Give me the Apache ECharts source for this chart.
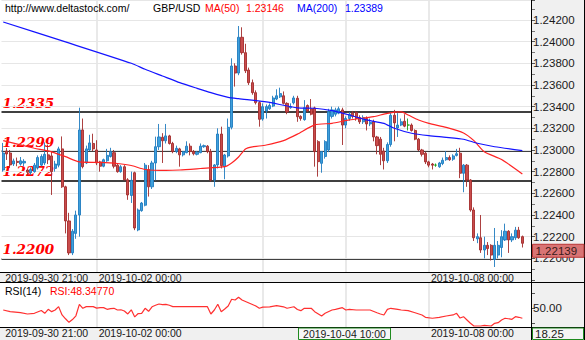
<!DOCTYPE html>
<html>
<head>
<meta charset="utf-8">
<script src="https://cdn.jsdelivr.net/npm/echarts@6/dist/echarts.min.js"></script>
<style>
  html, body { margin: 0; padding: 0; background: #ffffff; }
  #chart { width: 585px; height: 340px; }
</style>
</head>
<body>
<div id="chart"></div>
<script>
// ---- instrument / header ----
const siteUrl = 'http://www.deltastock.com/';
const symbol = 'GBP/USD';
const rsiPeriod = 14;

// ---- hourly bars (weekend gap skipped), first bar and slot count ----
const firstBarUtc = [2019, 8, 30, 21];
const slotCount = 153;

// tick labels shown under both panels, and days with a vertical grid line
const tickLabels = ['2019-09-30 21:00', '2019-10-02 00:00', '2019-10-08 00:00'];
const gridDays = ['2019-10-02 00:00', '2019-10-04 00:00', '2019-10-07 00:00', '2019-10-08 00:00'];

// crosshair position (bar time) and the RSI reading under the pointer
const cursorTime = '2019-10-04 10:00';
const cursorRsiReading = '18.25';

// horizontal support / resistance levels
const levels = [1.2335, 1.2299, 1.2272, 1.2200];

// OHLC bars: [open, close, low, high]
const candles = [
  [1.22815,1.22972,1.22800,1.23065],[1.22990,1.22963,1.22908,1.23018],[1.22972,1.22862,1.22834,1.23000],
  [1.22871,1.22899,1.22852,1.22920],[1.22895,1.22885,1.22850,1.22930],[1.22870,1.22900,1.22855,1.22935],
  [1.22880,1.22895,1.22850,1.22915],[1.22815,1.22795,1.22770,1.22830],[1.22790,1.22820,1.22770,1.22840],
  [1.22800,1.22860,1.22790,1.22880],[1.22835,1.22930,1.22820,1.22950],[1.22860,1.22940,1.22850,1.22960],
  [1.22880,1.22960,1.22860,1.23070],[1.22955,1.22910,1.22870,1.23050],[1.22945,1.22800,1.22585,1.22990],
  [1.22830,1.22870,1.22800,1.22900],[1.22860,1.23010,1.22840,1.23030],[1.23010,1.22660,1.22650,1.23125],
  [1.22660,1.22345,1.22230,1.22670],[1.22345,1.22050,1.22030,1.22420],[1.22050,1.22250,1.22030,1.22270],
  [1.22230,1.22400,1.22180,1.22440],[1.22400,1.23185,1.22200,1.23390],[1.23185,1.22846,1.22830,1.23290],
  [1.22880,1.23010,1.22870,1.23040],[1.23000,1.23065,1.22990,1.23140],[1.23060,1.23010,1.22990,1.23150],
  [1.23000,1.22880,1.22860,1.23090],[1.22890,1.22850,1.22800,1.22900],[1.22850,1.22910,1.22840,1.22920],
  [1.22900,1.22950,1.22890,1.23010],[1.22940,1.22985,1.22930,1.23020],[1.22975,1.22850,1.22830,1.23000],
  [1.22860,1.22800,1.22790,1.22870],[1.22800,1.22845,1.22790,1.22860],[1.22845,1.22725,1.22720,1.22860],
  [1.22725,1.22585,1.22540,1.22740],[1.22580,1.22720,1.22511,1.22800],[1.22790,1.22280,1.22260,1.22800],
  [1.22262,1.22446,1.22250,1.22460],[1.22440,1.22510,1.22430,1.22520],[1.22490,1.22860,1.22480,1.22880],
  [1.22820,1.22660,1.22570,1.22860],[1.22660,1.22880,1.22640,1.22900],[1.22880,1.23030,1.22720,1.23123],
  [1.23030,1.23120,1.23000,1.23240],[1.23117,1.23085,1.22880,1.23155],[1.23085,1.23130,1.23060,1.23240],
  [1.23130,1.23060,1.23050,1.23140],[1.23060,1.22985,1.22970,1.23075],[1.22985,1.23015,1.22970,1.23040],
  [1.23010,1.22955,1.22846,1.23020],[1.22955,1.22985,1.22940,1.22990],[1.22975,1.23035,1.22970,1.23080],
  [1.23035,1.22985,1.22950,1.23060],[1.22985,1.22965,1.22950,1.23000],[1.22960,1.22980,1.22950,1.22990],
  [1.22975,1.23035,1.22970,1.23060],[1.23030,1.23040,1.23020,1.23050],[1.23035,1.22985,1.22970,1.23045],
  [1.22985,1.22723,1.22710,1.23010],[1.22723,1.22862,1.22660,1.22870],[1.22862,1.23147,1.22830,1.23200],
  [1.23147,1.22855,1.22830,1.23215],[1.22846,1.22954,1.22730,1.22963],[1.22945,1.23209,1.22930,1.23290],
  [1.23209,1.23775,1.23190,1.23846],[1.23775,1.23710,1.23585,1.23800],[1.23710,1.24040,1.23690,1.24144],
  [1.24040,1.23898,1.23880,1.24132],[1.23898,1.23731,1.23710,1.23980],[1.23738,1.23621,1.23600,1.23760],
  [1.23621,1.23529,1.23510,1.23650],[1.23529,1.23437,1.23420,1.23550],[1.23437,1.23283,1.23215,1.23450],
  [1.23285,1.23400,1.23270,1.23430],[1.23360,1.23400,1.23290,1.23420],[1.23380,1.23410,1.23370,1.23430],
  [1.23405,1.23480,1.23395,1.23500],[1.23470,1.23500,1.23460,1.23560],[1.23490,1.23520,1.23480,1.23575],
  [1.23500,1.23430,1.23420,1.23540],[1.23430,1.23350,1.23330,1.23440],[1.23390,1.23400,1.23380,1.23430],
  [1.23435,1.23480,1.23420,1.23500],[1.23477,1.23307,1.23260,1.23500],[1.23310,1.23290,1.23270,1.23320],
  [1.23280,1.23390,1.23270,1.23460],[1.23410,1.23360,1.23350,1.23420],[1.23380,1.23330,1.23320,1.23470],
  [1.23388,1.22985,1.22846,1.23400],[1.23077,1.22892,1.22754,1.23090],[1.22877,1.22985,1.22790,1.22990],
  [1.22940,1.23077,1.22920,1.23090],[1.23000,1.23354,1.22980,1.23380],[1.23310,1.23370,1.23290,1.23400],
  [1.23330,1.23370,1.23310,1.23390],[1.23340,1.23380,1.23330,1.23400],[1.23370,1.23230,1.23046,1.23390],
  [1.23230,1.23290,1.23200,1.23310],[1.23290,1.23330,1.23270,1.23350],[1.23340,1.23310,1.23290,1.23360],
  [1.23345,1.23290,1.23270,1.23360],[1.23300,1.23260,1.23240,1.23320],[1.23260,1.23300,1.23240,1.23320],
  [1.23290,1.23240,1.23180,1.23310],[1.23240,1.23255,1.23220,1.23290],[1.23260,1.23120,1.23080,1.23280],
  [1.23120,1.23040,1.22960,1.23130],[1.23100,1.22960,1.22860,1.23120],[1.22990,1.22900,1.22820,1.23020],
  [1.22900,1.23050,1.22880,1.23070],[1.23050,1.23320,1.23030,1.23350],[1.23320,1.23250,1.23080,1.23370],
  [1.23203,1.23230,1.23120,1.23340],[1.23230,1.23260,1.23220,1.23290],[1.23265,1.23220,1.23210,1.23330],
  [1.23230,1.23230,1.23180,1.23290],[1.23230,1.23180,1.23170,1.23245],[1.23180,1.23100,1.23090,1.23190],
  [1.23100,1.23000,1.22990,1.23110],[1.23000,1.22960,1.22940,1.23010],[1.22970,1.22890,1.22870,1.22985],
  [1.22890,1.22860,1.22840,1.22900],[1.22870,1.22860,1.22820,1.22880],[1.22860,1.22860,1.22845,1.22875],
  [1.22845,1.22880,1.22835,1.22890],[1.22875,1.22905,1.22860,1.22930],[1.22910,1.22930,1.22900,1.22990],
  [1.22930,1.22910,1.22900,1.22950],[1.22915,1.22945,1.22900,1.22960],[1.22950,1.22965,1.22940,1.23010],
  [1.22970,1.22785,1.22740,1.23020],[1.22785,1.22860,1.22610,1.22870],[1.22860,1.22723,1.22660,1.22870],
  [1.22723,1.22446,1.22430,1.22730],[1.22446,1.22190,1.22160,1.22470],[1.22180,1.22200,1.22140,1.22230],
  [1.22190,1.22077,1.22050,1.22400],[1.22077,1.22120,1.22000,1.22200],[1.22120,1.22090,1.22030,1.22150],
  [1.22120,1.22030,1.21980,1.22130],[1.21990,1.22120,1.21920,1.22280],[1.22030,1.22120,1.22000,1.22160],
  [1.22100,1.22200,1.22010,1.22260],[1.22170,1.22250,1.22160,1.22320],[1.22250,1.22170,1.22050,1.22260],
  [1.22170,1.22200,1.22150,1.22230],[1.22190,1.22260,1.22170,1.22290],[1.22260,1.22190,1.22180,1.22290],
  [1.22200,1.22139,1.22100,1.22210]
];

// moving averages as [bar index, value]
const ma50 = [
  [0,1.23086],[9,1.23016],[13,1.22991],[18,1.22938],[22,1.22890],[28,1.22885],[33,1.22875],[37,1.22857],
  [41,1.22820],[47,1.22811],[51,1.22815],[57,1.22829],[64,1.22846],[66,1.22880],[68,1.22935],[70,1.23009],
  [72,1.23028],[76,1.23046],[81,1.23086],[85,1.23146],[90,1.23231],[95,1.23246],[100,1.23277],[107,1.23307],
  [111,1.23338],[115,1.23351],[117,1.23323],[120,1.23277],[123,1.23245],[128,1.23208],[133,1.23157],
  [136,1.23086],[139,1.22984],[144,1.22912],[150,1.22779]
];
const ma200 = [
  [0,1.24181],[18,1.23997],[37,1.23800],[41,1.23745],[46,1.23683],[51,1.23621],[56,1.23569],[60,1.23529],
  [65,1.23486],[68,1.23473],[76,1.23443],[85,1.23389],[90,1.23385],[95,1.23363],[100,1.23323],[105,1.23277],
  [110,1.23246],[113,1.23200],[118,1.23154],[123,1.23132],[128,1.23117],[133,1.23099],[137,1.23062],
  [142,1.23030],[150,1.22994]
];

// RSI(14) as [bar index, value]
const rsi = [
  [0,47.7],[2,45.5],[5,44.1],[7,42.4],[9,43.3],[11,47.0],[12,43.3],[13,48.6],[14,45.5],[15,47.7],[16,52.2],
  [17,41.1],[18,36.0],[19,31.3],[20,35.0],[21,40.0],[22,55.3],[23,50.0],[24,52.2],[26,52.2],[27,50.2],[28,51.0],
  [29,50.9],[30,48.6],[31,49.5],[32,50.0],[33,47.7],[34,48.0],[35,46.4],[36,42.4],[37,48.0],[38,38.5],[39,43.0],
  [40,43.3],[41,50.0],[42,46.0],[43,52.0],[44,54.0],[45,55.7],[46,55.0],[47,55.3],[48,54.0],[49,52.2],[52,52.2],
  [56,52.2],[59,52.2],[60,42.4],[61,47.7],[62,55.3],[63,45.5],[64,49.0],[65,53.0],[66,62.0],[67,61.0],[68,64.6],
  [69,61.0],[70,59.0],[71,57.0],[72,55.0],[73,53.0],[74,50.0],[75,51.5],[77,52.0],[79,53.5],[81,52.0],[82,50.0],
  [83,51.0],[84,52.0],[85,48.3477],[86,46.8],[87,50.0],[89,50.0],[90,45.5],[92,39.7],[93,43.3],[95,47.7],
  [96,48.6],[98,50.8],[99,47.7],[100,48.6],[102,47.7],[104,47.7],[106,47.7],[108,44.1],[109,42.4],[110,41.1],
  [111,48.6],[112,50.0],[114,48.6],[115,47.7],[117,46.8],[119,44.1],[121,41.1],[122,38.0],[124,36.7],[126,38.0],
  [128,39.7],[130,41.1],[131,43.3],[132,37.0],[133,38.8],[134,34.4],[135,30.0],[136,26.4],[138,26.4],[139,27.3],
  [141,26.4],[142,30.0],[143,30.8],[144,34.4],[145,36.7],[147,35.3],[148,38.8],[149,38.0],[150,36.7]
];

// ---- helpers ----
function pad(n) { return (n < 10 ? '0' : '') + n; }
function fmtTime(d) {
  return d.getUTCFullYear() + '-' + pad(d.getUTCMonth() + 1) + '-' + pad(d.getUTCDate()) +
    ' ' + pad(d.getUTCHours()) + ':00';
}
function buildTimes() {
  const out = [];
  let t = Date.UTC(firstBarUtc[0], firstBarUtc[1], firstBarUtc[2], firstBarUtc[3]);
  while (out.length < slotCount) {
    const d = new Date(t);
    const day = d.getUTCDay(), h = d.getUTCHours();
    const closed = (day === 5 && h >= 21) || day === 6 || (day === 0 && h < 21);
    if (!closed) out.push(fmtTime(d));
    t += 3600000;
  }
  return out;
}
function valueAt(series, idx) {
  const p = series.find(function (q) { return q[0] === idx; });
  return p ? p[1] : null;
}

const times = buildTimes();
const cursorIdx = times.indexOf(cursorTime);
const lastClose = candles[candles.length - 1][1];

const SANS = '"Liberation Sans", Arial, sans-serif';
const AXIS_TEXT = '#1a1a1a';

// ---- layout ----
const PLOT_L = 1.5, PLOT_R = 531, W = 585;
const MAIN_TOP = 0, MAIN_H = 280;
const RSI_TOP = 283, RSI_H = 55.3;
const STRIP1_Y = 272, STRIP1_H = 10.5;
const STRIP2_Y = 327;

function catAxis(gridIndex, margin) {
  return {
    type: 'category', gridIndex: gridIndex, data: times, boundaryGap: true,
    axisLine: { show: false }, axisTick: { show: false }, splitLine: { show: false },
    axisLabel: {
      interval: function (i, v) { return tickLabels.indexOf(v) >= 0; },
      align: 'left', verticalAlign: 'middle', margin: margin, padding: [0, 0, 0, 2],
      color: AXIS_TEXT, fontSize: 10.5, fontFamily: SANS
    },
    z: 12
  };
}

function gridLineSeries(xi, yi) {
  return {
    type: 'line', xAxisIndex: xi, yAxisIndex: yi, data: [], z: 1, silent: true,
    markLine: {
      symbol: 'none', silent: true, animation: false,
      lineStyle: { color: '#e2e2e2', width: 1.5, type: 'solid' },
      label: { show: false },
      data: gridDays.map(function (t) { return { xAxis: t }; })
    }
  };
}

const levelLines = levels.map(function (v) {
  return {
    yAxis: v,
    lineStyle: { color: '#000', width: 1.6, type: 'solid' },
    label: {
      show: true, position: 'insideStartTop', distance: [1, 2],
      formatter: v.toFixed(4), color: '#ff0000', fontSize: 13.5,
      fontStyle: 'italic', fontWeight: 'bold', fontFamily: '"DejaVu Serif", serif'
    }
  };
});

const headerY = 8;
const headerItems = [
  { x: 5, text: siteUrl, color: '#000' },
  { x: 153, text: symbol, color: '#000' },
  { x: 205, text: 'MA(50)', color: '#ff0000' },
  { x: 246, text: valueAt(ma50, cursorIdx).toFixed(5), color: '#ff0000' },
  { x: 297, text: 'MA(200)', color: '#0000ff' },
  { x: 345, text: valueAt(ma200, cursorIdx).toFixed(5), color: '#0000ff' }
];

const graphics = [
  // right axis column
  { type: 'rect', shape: { x: PLOT_R, y: 0, width: W - PLOT_R, height: 340 }, style: { fill: '#f0f0f0' }, z: 1 },
  // time strip under the price panel
  { type: 'rect', shape: { x: 0, y: STRIP1_Y, width: PLOT_R, height: STRIP1_H }, style: { fill: '#f0f0f0' }, z: 10 },
  { type: 'line', shape: { x1: 0, y1: STRIP1_Y + 0.5, x2: PLOT_R, y2: STRIP1_Y + 0.5 }, style: { stroke: '#000', lineWidth: 1 }, z: 11 },
  { type: 'line', shape: { x1: 0, y1: 282.5, x2: W, y2: 282.5 }, style: { stroke: '#000', lineWidth: 1 }, z: 11 },
  // time strip under the RSI panel
  { type: 'rect', shape: { x: 0, y: STRIP2_Y, width: PLOT_R, height: 340 - STRIP2_Y }, style: { fill: '#f0f0f0' }, z: 10 },
  { type: 'line', shape: { x1: 0, y1: STRIP2_Y + 0.5, x2: W, y2: STRIP2_Y + 0.5 }, style: { stroke: '#000', lineWidth: 1 }, z: 11 },
  // axis line and right border
  { type: 'line', shape: { x1: PLOT_R + 0.5, y1: 0, x2: PLOT_R + 0.5, y2: 340 }, style: { stroke: '#000', lineWidth: 1 }, z: 11 },
  { type: 'line', shape: { x1: W - 0.5, y1: 0, x2: W - 0.5, y2: 340 }, style: { stroke: '#000', lineWidth: 1 }, z: 11 },
  // crosshair read-outs
  { type: 'rect', shape: { x: 298.5, y: STRIP2_Y + 1, width: 92, height: 11.5 }, style: { fill: '#f6f6f6', stroke: '#1f8a1f', lineWidth: 1 }, z: 12 },
  { type: 'text', x: 344.5, y: 333.5, style: { text: times[cursorIdx], fill: AXIS_TEXT, fontSize: 10.5, fontFamily: SANS, align: 'center', verticalAlign: 'middle' }, z: 13 },
  { type: 'rect', shape: { x: PLOT_R + 1.5, y: STRIP2_Y + 1, width: 51, height: 11.5 }, style: { fill: '#f4f4f4', stroke: '#1f8a1f', lineWidth: 1 }, z: 12 },
  { type: 'text', x: PLOT_R + 4, y: 333.5, style: { text: cursorRsiReading, fill: AXIS_TEXT, fontSize: 11.5, fontFamily: SANS, verticalAlign: 'middle' }, z: 13 },
  // RSI caption
  { type: 'text', x: 5, y: 291, style: { text: 'RSI(' + rsiPeriod + ')', fill: '#000', fontSize: 10.5, fontFamily: SANS, verticalAlign: 'middle' }, z: 13 },
  { type: 'text', x: 50, y: 291, style: { text: 'RSI:' + valueAt(rsi, cursorIdx).toFixed(5), fill: '#ff0000', fontSize: 10.5, fontFamily: SANS, verticalAlign: 'middle' }, z: 13 }
].concat(headerItems.map(function (h) {
  return { type: 'text', x: h.x, y: headerY, style: { text: h.text, fill: h.color, fontSize: 10.5, fontFamily: SANS, verticalAlign: 'middle' }, z: 13 };
}));

const chart = echarts.init(document.getElementById('chart'), null, { renderer: 'svg', width: 585, height: 340 });

chart.setOption({
  animation: false,
  backgroundColor: '#ffffff',
  grid: [
    { left: PLOT_L, width: PLOT_R - PLOT_L, top: MAIN_TOP, height: MAIN_H, containLabel: false },
    { left: PLOT_L, width: PLOT_R - PLOT_L, top: RSI_TOP, height: RSI_H, containLabel: false }
  ],
  xAxis: [catAxis(0, -2.5), catAxis(1, -5.3)],
  yAxis: [
    {
      type: 'value', gridIndex: 0, position: 'right', min: 1.218, max: 1.24384, interval: 0.002,
      axisLine: { show: false },
      axisTick: { show: true, length: 4, lineStyle: { color: '#555' } },
      minorTick: { show: true, splitNumber: 2, length: 4, lineStyle: { color: '#777' } },
      minorSplitLine: { show: false },
      axisLabel: {
        showMaxLabel: false, margin: 2, color: AXIS_TEXT, fontSize: 11.5, fontFamily: SANS,
        formatter: function (v) { return v < 1.2195 ? '' : v.toFixed(5); }
      },
      splitLine: { show: true, lineStyle: { color: '#e6e6e6', width: 1.2 } },
      z: 6
    },
    {
      type: 'value', gridIndex: 1, position: 'right', min: 10, max: 83.7, interval: 20,
      axisLine: { show: false },
      axisTick: { show: true, length: 4, lineStyle: { color: '#555' } },
      axisLabel: {
        showMaxLabel: false, margin: 2, color: AXIS_TEXT, fontSize: 11.5, fontFamily: SANS,
        formatter: function (v) { return v === 50 ? '50.00' : ''; }
      },
      splitLine: { show: false },
      z: 6
    }
  ],
  series: [
    gridLineSeries(0, 0),
    gridLineSeries(1, 1),
    {
      name: symbol, type: 'candlestick', xAxisIndex: 0, yAxisIndex: 0, data: candles,
      barWidth: 2.6, z: 7,
      itemStyle: {
        color: '#3ea0dc', color0: '#c94c4c',
        borderColor: '#1f7cc0', borderColor0: '#a32b2b',
        borderColorDoji: '#17a017', borderWidth: 0.9
      },
      markLine: { symbol: 'none', silent: true, animation: false, precision: 5, data: levelLines }
    },
    {
      name: 'MA(50)', type: 'line', xAxisIndex: 0, yAxisIndex: 0, data: ma50,
      showSymbol: false, smooth: 0.2, z: 8, lineStyle: { color: '#ff2424', width: 1.2 }
    },
    {
      name: 'MA(200)', type: 'line', xAxisIndex: 0, yAxisIndex: 0, data: ma200,
      showSymbol: false, smooth: 0.2, z: 8, lineStyle: { color: '#1414ff', width: 1.2 }
    },
    {
      name: 'RSI(14)', type: 'line', xAxisIndex: 1, yAxisIndex: 1, data: rsi,
      showSymbol: false, z: 8, lineStyle: { color: '#ff3030', width: 1.2 }
    }
  ],
  graphic: { elements: graphics }
});

// last traded price tag on the price axis, placed through the axis scale
const lastY = chart.convertToPixel({ yAxisIndex: 0 }, lastClose);
chart.setOption({
  graphic: {
    elements: graphics.concat([
      { type: 'rect', shape: { x: PLOT_R + 1.5, y: lastY + 1, width: 51.5, height: 13 },
        style: { fill: '#d97474', stroke: '#b83434', lineWidth: 1 }, z: 12 },
      { type: 'text', x: PLOT_R + 4.5, y: lastY + 7.8,
        style: { text: lastClose.toFixed(5), fill: '#3a1a1a', fontSize: 11.5, fontFamily: SANS, verticalAlign: 'middle' }, z: 13 }
    ])
  }
});
</script>
</body>
</html>
